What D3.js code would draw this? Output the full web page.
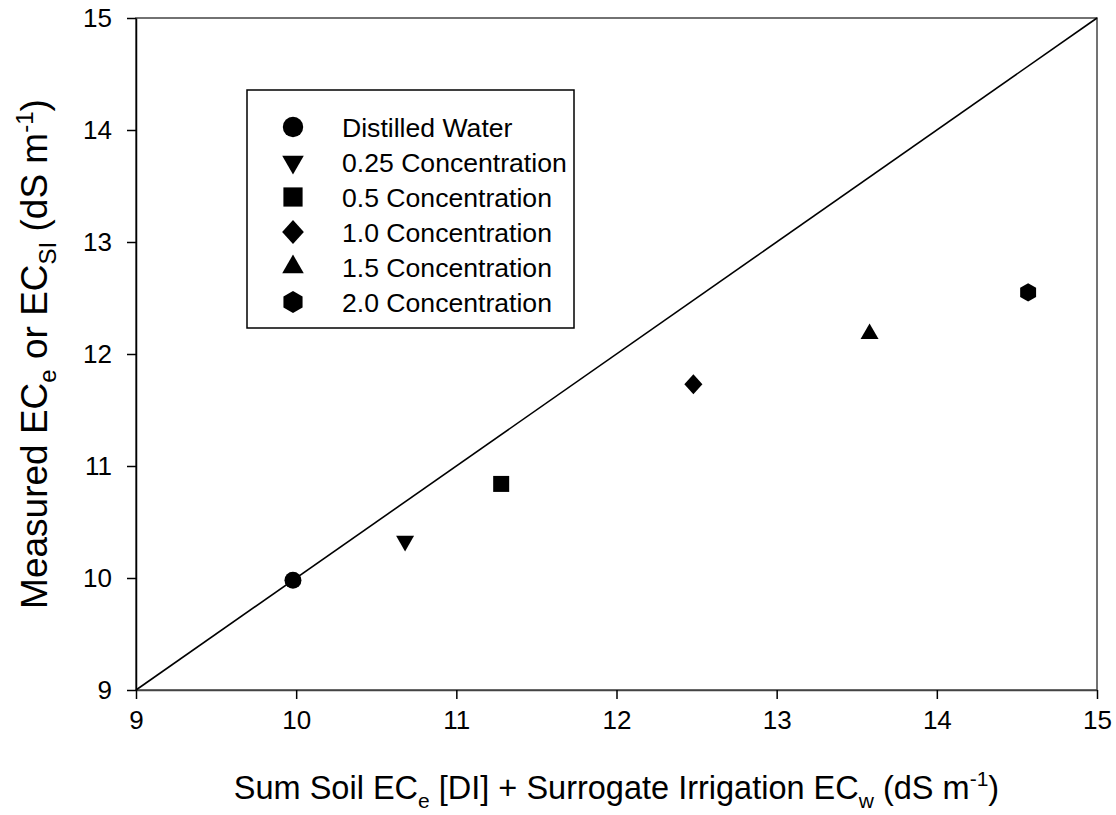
<!DOCTYPE html>
<html>
<head>
<meta charset="utf-8">
<script src="https://cdn.jsdelivr.net/npm/d3@7"></script>
<style>
  body { margin: 0; background: #fff; }
  svg { display: block; font-family: "Liberation Sans", Arial, sans-serif; }
</style>
</head>
<body>
<svg id="grafico" width="1116" height="815"></svg>
<script>
// dati
var trattamenti = ["Distilled Water", "0.25 Concentration", "0.5 Concentration",
                   "1.0 Concentration", "1.5 Concentration", "2.0 Concentration"];
var sommaEC = [9.98, 10.68, 11.28, 12.48, 13.58, 14.57];
var misuratoEC = [9.98, 10.33, 10.84, 11.73, 12.18, 12.55];
var tickX = [9, 10, 11, 12, 13, 14, 15];
var tickY = [9, 10, 11, 12, 13, 14, 15];
var dominio = [9, 15];

var margine = { top: 18, right: 19, bottom: 125, left: 136 };
var larghezza = 1116 - margine.left - margine.right;
var altezza = 815 - margine.top - margine.bottom;

var svg = d3.select("#grafico");
var g = svg.append("g").attr("transform", "translate(" + margine.left + "," + margine.top + ")");

var x = d3.scaleLinear().domain(dominio).range([0, larghezza]);
var y = d3.scaleLinear().domain(dominio).range([altezza, 0]);

// simboli non presenti in d3
var esagono = {
  draw: function (ctx, size) {
    var r = Math.sqrt(size / (1.5 * Math.sqrt(3)));
    for (var i = 0; i < 6; i++) {
      var a = Math.PI / 3 * i - Math.PI / 2;
      if (i == 0) ctx.moveTo(r * Math.cos(a), r * Math.sin(a));
      else ctx.lineTo(r * Math.cos(a), r * Math.sin(a));
    }
    ctx.closePath();
  }
};
var rombo = {
  draw: function (ctx, size) {
    var w = Math.sqrt(size / 2.2);
    var h = w * 1.1;
    ctx.moveTo(0, -h);
    ctx.lineTo(w, 0);
    ctx.lineTo(0, h);
    ctx.lineTo(-w, 0);
    ctx.closePath();
  }
};

var forme = [
  { tipo: d3.symbolCircle, size: 227, rot: 0 },
  { tipo: d3.symbolTriangle, size: 140, rot: 180 },
  { tipo: d3.symbolSquare, size: 256, rot: 0 },
  { tipo: rombo, size: 180, rot: 0 },
  { tipo: d3.symbolTriangle, size: 140, rot: 0 },
  { tipo: esagono, size: 220, rot: 0 }
];

function simbolo(i, scala) {
  return d3.symbol().type(forme[i].tipo).size(forme[i].size * scala * scala)();
}

// cornice
g.append("rect")
  .attr("width", larghezza)
  .attr("height", altezza)
  .attr("fill", "none")
  .attr("stroke", "#444")
  .attr("stroke-width", 1.5);

// assi
var assex = g.append("g")
  .attr("transform", "translate(0," + altezza + ")")
  .call(d3.axisBottom(x).tickValues(tickX).tickSize(9).tickSizeOuter(0).tickPadding(12).tickFormat(d3.format("d")));
var assey = g.append("g")
  .call(d3.axisLeft(y).tickValues(tickY).tickSize(9).tickSizeOuter(0).tickPadding(15).tickFormat(d3.format("d")));

[assex, assey].forEach(function (a) {
  a.selectAll("text").style("font-size", "26px").attr("fill", "#000").style("font-family", "'Liberation Sans', Arial, sans-serif");
  a.selectAll("line").attr("stroke", "#000").attr("stroke-width", 1.5);
  a.select(".domain").attr("stroke", "#000").attr("stroke-width", 1.5);
});
assex.select(".domain").attr("stroke", "#444");

// linea 1:1
g.append("line")
  .attr("x1", x(dominio[0]))
  .attr("y1", y(dominio[0]))
  .attr("x2", x(dominio[1]))
  .attr("y2", y(dominio[1]))
  .attr("stroke", "#000")
  .attr("stroke-width", 1.6);

// punti
g.selectAll(".punto")
  .data(sommaEC)
  .enter()
  .append("path")
  .attr("class", "punto")
  .attr("d", function (d, i) { return simbolo(i, 1); })
  .attr("transform", function (d, i) {
    return "translate(" + x(d) + "," + y(misuratoEC[i]) + ") rotate(" + forme[i].rot + ")";
  })
  .attr("fill", "#000");

// legenda
var legenda = svg.append("g").attr("transform", "translate(247,90)");
legenda.append("rect")
  .attr("width", 327)
  .attr("height", 238)
  .attr("fill", "#fff")
  .attr("stroke", "#000")
  .attr("stroke-width", 1.5);

var voci = legenda.selectAll(".voce")
  .data(trattamenti)
  .enter()
  .append("g")
  .attr("class", "voce")
  .attr("transform", function (d, i) { return "translate(0," + (37 + 35 * i) + ")"; });

voci.append("path")
  .attr("d", function (d, i) { return simbolo(i, 1.2); })
  .attr("transform", function (d, i) { return "translate(46,0) rotate(" + forme[i].rot + ")"; })
  .attr("fill", "#000");

voci.append("text")
  .attr("x", 95)
  .attr("dy", "0.36em")
  .style("font-size", "26.6px")
  .attr("fill", "#000")
  .text(function (d) { return d; });

// titoli assi
var titoloX = svg.append("text")
  .attr("x", margine.left + larghezza / 2)
  .attr("y", 799)
  .attr("text-anchor", "middle")
  .style("font-size", "32.5px")
  .attr("fill", "#000");
titoloX.append("tspan").text("Sum Soil EC");
titoloX.append("tspan").attr("dy", 9).style("font-size", "21px").text("e");
titoloX.append("tspan").attr("dy", -9).text(" [DI] + Surrogate Irrigation EC");
titoloX.append("tspan").attr("dy", 9).style("font-size", "21px").text("w");
titoloX.append("tspan").attr("dy", -9).text(" (dS m");
titoloX.append("tspan").attr("dy", -13).style("font-size", "21px").text("-1");
titoloX.append("tspan").attr("dy", 13).text(")");

var titoloY = svg.append("text")
  .attr("transform", "translate(47," + (margine.top + altezza / 2) + ") rotate(-90)")
  .attr("text-anchor", "middle")
  .style("font-size", "37px")
  .attr("fill", "#000");
titoloY.append("tspan").text("Measured EC");
titoloY.append("tspan").attr("dy", 9).style("font-size", "24px").text("e");
titoloY.append("tspan").attr("dy", -9).text(" or EC");
titoloY.append("tspan").attr("dy", 9).style("font-size", "24px").text("SI");
titoloY.append("tspan").attr("dy", -9).text(" (dS m");
titoloY.append("tspan").attr("dy", -14).style("font-size", "24px").text("-1");
titoloY.append("tspan").attr("dy", 14).text(")");
</script>
</body>
</html>
